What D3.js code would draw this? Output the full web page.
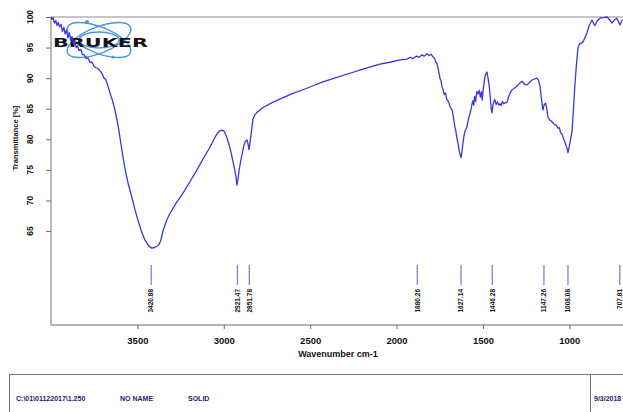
<!DOCTYPE html>
<html>
<head>
<meta charset="utf-8">
<script src="https://cdn.jsdelivr.net/npm/d3@7"></script>
<style>
  body { margin: 0; background: #fff; }
  svg { display: block; font-family: "Liberation Sans", Arial, sans-serif; }
</style>
</head>
<body>
<svg id="ir-spectrum" width="623" height="412"></svg>
<script>
const svg = d3.select("#ir-spectrum");

// spectrum (wavenumber cm-1, transmittance %)
const wavenumbers = [
  4000, 3994, 3988, 3980, 3972, 3965, 3958, 3950, 3942, 3934, 3926, 3918, 3910, 3902, 3894, 3886,
  3878, 3870, 3862, 3854, 3846, 3838, 3828, 3818, 3808, 3796, 3786, 3774, 3762, 3750, 3740, 3728,
  3716, 3704, 3693, 3684, 3676, 3668, 3659, 3645, 3630, 3620, 3612, 3601, 3586, 3572, 3552, 3531,
  3514, 3497, 3476, 3456, 3440, 3427, 3416, 3400, 3387, 3375, 3365, 3352, 3330, 3311, 3275, 3236,
  3195, 3155, 3118, 3080, 3055, 3039, 3022, 3010, 2998, 2985, 2972, 2964, 2955, 2947, 2938, 2929,
  2924, 2918, 2912, 2903, 2895, 2885, 2877, 2866, 2860, 2854, 2848, 2842, 2837, 2831, 2820, 2808,
  2790, 2773, 2720, 2657, 2600, 2542, 2480, 2426, 2350, 2270, 2180, 2096, 2040, 1980, 1940, 1920,
  1905, 1885, 1870, 1855, 1840, 1824, 1812, 1800, 1790, 1780, 1772, 1766, 1760, 1755, 1749, 1743,
  1737, 1731, 1724, 1717, 1710, 1703, 1695, 1688, 1679, 1672, 1668, 1662, 1656, 1650, 1645, 1638,
  1633, 1627, 1622, 1616, 1610, 1603, 1593, 1585, 1575, 1568, 1562, 1558, 1553, 1548, 1542, 1536,
  1529, 1522, 1515, 1509, 1504, 1498, 1492, 1488, 1482, 1477, 1471, 1465, 1458, 1452, 1448, 1442,
  1436, 1431, 1424, 1416, 1409, 1402, 1395, 1388, 1380, 1370, 1361, 1352, 1342, 1332, 1320, 1303,
  1290, 1274, 1260, 1245, 1230, 1216, 1200, 1187, 1178, 1170, 1162, 1153, 1145, 1138, 1130, 1124,
  1115, 1105, 1095, 1085, 1075, 1066, 1058, 1050, 1043, 1035, 1025, 1014, 1008, 1002, 995, 985,
  976, 967, 958, 950, 940, 921, 910, 898, 885, 869, 860, 852, 840, 823, 800, 782,
  768, 753, 740, 725, 715, 707, 698, 690, 670, 650, 620, 600
];

const transmittance = [
  100.0, 99.6, 99.9, 99.0, 99.4, 98.6, 99.1, 98.4, 98.8, 97.6, 98.3, 97.2, 97.9, 96.6, 97.4, 96.2,
  96.8, 95.6, 96.1, 95.0, 95.3, 94.5, 94.7, 93.9, 93.8, 93.2, 93.3, 92.6, 92.6, 91.9, 91.7, 91.6,
  91.2, 90.7, 90.0, 89.8, 89.2, 88.5, 87.6, 86.4, 84.8, 83.4, 82.3, 80.3, 77.6, 75.2, 72.6, 70.4,
  68.5, 66.8, 64.9, 63.5, 62.8, 62.4, 62.2, 62.3, 62.5, 62.8, 63.4, 65.0, 66.8, 67.9, 69.6, 71.2,
  73.1, 75.0, 76.9, 78.7, 80.1, 80.9, 81.4, 81.5, 81.3, 80.5, 79.4, 78.5, 77.5, 76.4, 75.2, 73.8,
  72.5, 73.4, 74.8, 76.3, 77.4, 78.8, 79.6, 79.9, 79.3, 78.3, 79.5, 80.8, 82.0, 83.3, 84.0, 84.4,
  84.8, 85.2, 86.0, 86.8, 87.5, 88.1, 88.8, 89.4, 90.1, 90.8, 91.6, 92.3, 92.6, 93.0, 93.1, 93.4,
  93.2, 93.6, 93.4, 93.8, 93.6, 94.0, 93.7, 93.9, 93.5, 93.2, 92.6, 92.4, 91.6, 91.0, 90.0, 89.6,
  88.6, 88.2, 87.3, 87.6, 86.6, 86.3, 85.8, 85.2, 84.8, 83.8, 83.0, 82.0, 81.2, 80.1, 79.4, 78.2,
  77.6, 77.0, 77.8, 79.3, 80.5, 81.4, 82.0, 83.2, 84.2, 85.0, 85.9, 86.3, 85.6, 87.0, 86.2, 87.8,
  87.4, 88.0, 86.9, 87.8, 86.4, 88.3, 89.5, 90.3, 90.8, 91.0, 90.1, 89.0, 87.0, 85.0, 84.3, 85.6,
  86.2, 86.5, 85.7, 86.1, 85.6, 85.8, 85.5, 86.2, 85.8, 86.0, 86.0, 86.9, 87.6, 88.1, 88.3, 88.7,
  89.1, 89.5, 89.0, 88.9, 89.3, 89.7, 89.9, 90.0, 89.6, 88.7, 86.8, 84.8, 85.7, 85.9, 85.0, 83.6,
  83.2, 83.0, 82.7, 82.4, 82.3, 81.8, 81.9, 81.0, 80.9, 80.2, 79.5, 78.6, 77.8, 78.6, 79.6, 81.2,
  85.0, 89.2, 92.5, 95.0, 95.6, 95.9, 96.6, 97.4, 98.6, 99.5, 99.0, 98.6, 99.3, 99.8, 99.9, 100.0,
  99.6, 99.0, 99.5, 99.8, 99.2, 98.7, 99.3, 99.5, 99.1, 99.6, 99.2, 99.5
];

// picked peaks
const peakPositions = [3420, 2921, 2852, 1880, 1627, 1446, 1147, 1008, 708];
const peakLabels = ["3420.88", "2921.47", "2851.78", "1880.26", "1627.14", "1446.28", "1147.26", "1008.08", "707.81"];

const xTicks = [3500, 3000, 2500, 2000, 1500, 1000];
const yTicks = [100, 95, 90, 85, 80, 75, 70, 65];

const footerTexts = ["C:\\01\\01122017\\1.250", "NO NAME", "SOLID"];
const footerDate = "9/3/2018";

const plot = { left: 51, top: 17, bottom: 325, right: 673 };

const x = d3.scaleLinear().domain([4000, 400]).range([plot.left, plot.right]);
const y = d3.scaleLinear().domain([65, 100]).range([231, plot.top]);

const spectrum = wavenumbers.map((w, i) => ({ w, t: transmittance[i] }));

// frame
svg.append("path")
  .attr("d", `M${plot.left},${plot.bottom} V${plot.top} H${plot.right}`)
  .attr("fill", "none")
  .attr("stroke", "#8c8c8c")
  .attr("stroke-width", 1.2);

svg.append("line")
  .attr("x1", plot.left).attr("x2", plot.right)
  .attr("y1", plot.bottom).attr("y2", plot.bottom)
  .attr("stroke", "#6a6a6a")
  .attr("stroke-width", 1.2);

// x axis
const xAxis = svg.append("g")
  .attr("transform", `translate(0,${plot.bottom})`)
  .call(d3.axisBottom(x).tickValues(xTicks).tickSize(4).tickPadding(8).tickFormat(d3.format("d")));
xAxis.select(".domain").remove();
xAxis.selectAll(".tick line").attr("stroke", "#6a6a6a");
xAxis.selectAll(".tick text")
  .attr("font-size", 9.5)
  .attr("font-weight", "bold")
  .attr("fill", "#111");

svg.append("text")
  .attr("x", 338)
  .attr("y", 357)
  .attr("text-anchor", "middle")
  .attr("font-size", 9)
  .attr("font-weight", "bold")
  .attr("fill", "#111")
  .text("Wavenumber cm-1");

// y axis
const yAxis = svg.append("g")
  .attr("transform", `translate(${plot.left},0)`)
  .call(d3.axisLeft(y).tickValues(yTicks).tickSize(5).tickFormat(""));
yAxis.select(".domain").remove();
yAxis.selectAll(".tick line").attr("stroke", "#6a6a6a");

svg.append("g")
  .selectAll("text")
  .data(yTicks)
  .join("text")
  .attr("transform", d => `translate(33,${y(d)}) rotate(-90)`)
  .attr("text-anchor", "middle")
  .attr("font-size", 8.5)
  .attr("font-weight", "bold")
  .attr("fill", "#111")
  .text(d => d);

svg.append("text")
  .attr("transform", "translate(18,138) rotate(-90)")
  .attr("text-anchor", "middle")
  .attr("font-size", 7.5)
  .attr("font-weight", "bold")
  .attr("fill", "#111")
  .text("Transmittance [%]");

// bruker logo
const logo = svg.append("g").attr("transform", "translate(99,40)");
[[-22, 34, 13], [22, 34, 13], [0, 20, 8]].forEach(([angle, rx, ry]) => {
  logo.append("ellipse")
    .attr("rx", rx)
    .attr("ry", ry)
    .attr("transform", `rotate(${angle})`)
    .attr("fill", "none")
    .attr("stroke", "#4b93e3")
    .attr("stroke-width", 1.4);
});
logo.append("circle").attr("cx", -12).attr("cy", -18).attr("r", 2).attr("fill", "#4b93e3");
logo.append("circle").attr("cx", 14).attr("cy", 17).attr("r", 1.6).attr("fill", "#4b93e3");

svg.append("text")
  .attr("x", 53)
  .attr("y", 46.5)
  .attr("font-family", "DejaVu Sans, sans-serif")
  .attr("font-size", 12.5)
  .attr("font-weight", "bold")
  .attr("textLength", 95)
  .attr("lengthAdjust", "spacingAndGlyphs")
  .attr("fill", "#141414")
  .text("BRUKER");

// spectrum line
svg.append("clipPath")
  .attr("id", "plot-clip")
  .append("rect")
  .attr("x", plot.left)
  .attr("y", plot.top - 1)
  .attr("width", plot.right - plot.left)
  .attr("height", plot.bottom - plot.top);

const line = d3.line()
  .x(d => x(d.w))
  .y(d => y(d.t));

svg.append("path")
  .datum(spectrum)
  .attr("clip-path", "url(#plot-clip)")
  .attr("fill", "none")
  .attr("stroke", "#3838dc")
  .attr("stroke-width", 1.3)
  .attr("stroke-linejoin", "round")
  .attr("d", line);

// peak markers
const peaks = svg.append("g")
  .selectAll("g")
  .data(peakPositions)
  .join("g")
  .attr("transform", d => `translate(${x(d)},0)`);

peaks.append("line")
  .attr("y1", 265)
  .attr("y2", 285)
  .attr("stroke", "#7d7df0")
  .attr("stroke-width", 1.3);

peaks.append("text")
  .attr("transform", "translate(0,289) rotate(-90)")
  .attr("text-anchor", "end")
  .attr("dy", "0.35em")
  .attr("font-size", 6.5)
  .attr("font-weight", "bold")
  .attr("fill", "#111")
  .text((d, i) => peakLabels[i]);

// footer box
svg.append("rect")
  .attr("x", 9.5)
  .attr("y", 374.5)
  .attr("width", 640)
  .attr("height", 60)
  .attr("fill", "none")
  .attr("stroke", "#777")
  .attr("stroke-width", 1);

svg.append("line")
  .attr("x1", 590.5).attr("x2", 590.5)
  .attr("y1", 374.5).attr("y2", 412)
  .attr("stroke", "#777");

svg.append("g")
  .selectAll("text")
  .data(footerTexts)
  .join("text")
  .attr("x", (d, i) => [16, 120, 188][i])
  .attr("y", 401)
  .attr("font-size", 7)
  .attr("font-weight", "bold")
  .attr("fill", "#1c2270")
  .text(d => d);

svg.append("text")
  .attr("x", 594)
  .attr("y", 401)
  .attr("font-size", 7)
  .attr("font-weight", "bold")
  .attr("fill", "#1c2270")
  .text(footerDate);
</script>
</body>
</html>
